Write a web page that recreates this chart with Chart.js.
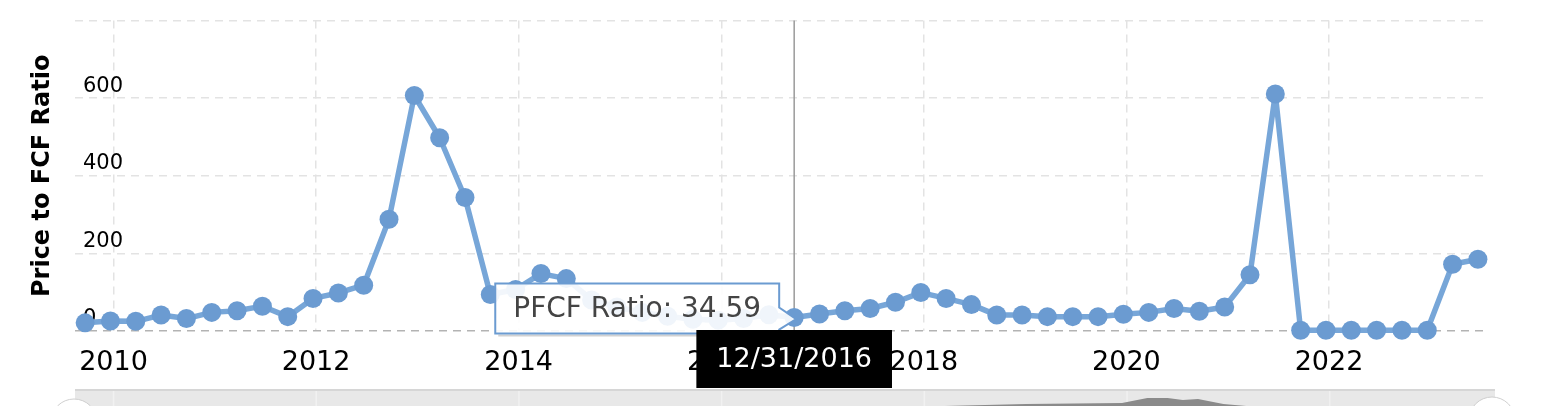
<!DOCTYPE html>
<html>
<head>
<meta charset="utf-8">
<script src="https://cdn.jsdelivr.net/npm/chart.js@4.4.1/dist/chart.umd.min.js"></script>
<style>
    html, body { margin: 0; padding: 0; background: #fff; overflow: hidden; }
    #contenedor { position: relative; width: 1550px; height: 406px; overflow: hidden; }
    #grafico { position: absolute; left: 0; top: 0; }
    #navegador { position: absolute; left: 0; top: 389px; }
</style>
</head>
<body>
<div id="contenedor">
    <canvas id="grafico" width="1550" height="389"></canvas>
    <canvas id="navegador" width="1550" height="60"></canvas>
</div>
<script>
const fechas = [
    "12/31/2009",
    "3/31/2010", "6/30/2010", "9/30/2010", "12/31/2010",
    "3/31/2011", "6/30/2011", "9/30/2011", "12/31/2011",
    "3/31/2012", "6/30/2012", "9/30/2012", "12/31/2012",
    "3/31/2013", "6/30/2013", "9/30/2013", "12/31/2013",
    "3/31/2014", "6/30/2014", "9/30/2014", "12/31/2014",
    "3/31/2015", "6/30/2015", "9/30/2015", "12/31/2015",
    "3/31/2016", "6/30/2016", "9/30/2016", "12/31/2016",
    "3/31/2017", "6/30/2017", "9/30/2017", "12/31/2017",
    "3/31/2018", "6/30/2018", "9/30/2018", "12/31/2018",
    "3/31/2019", "6/30/2019", "9/30/2019", "12/31/2019",
    "3/31/2020", "6/30/2020", "9/30/2020", "12/31/2020",
    "3/31/2021", "6/30/2021", "9/30/2021", "12/31/2021",
    "3/31/2022", "6/30/2022", "9/30/2022", "12/31/2022",
    "3/31/2023", "6/30/2023", "9/30/2023",
];
const pfcf = [
    21,
    26, 25, 41, 32,
    48, 52, 64, 37,
    84, 98, 118, 288,
    607, 498, 344, 94,
    107, 148, 135, 80,
    62, 48, 38, 30,
    28, 32, 42, 34.59,
    44, 52, 58, 74,
    99, 84, 68, 41,
    41, 37, 37, 37,
    43, 48, 58, 51,
    62, 145, 611, 2,
    2, 2, 2, 2,
    2, 172, 185,
];
const anios = [2010, 2012, 2014, 2016, 2018, 2020, 2022];
const ticksY = [0, 200, 400, 600, 800];
const etiquetasY = ["0", "200", "400", "600", ""];

// serie del navegador (solo se ve la parte alta)
const navAnios = [2009.6, 2016.5, 2017.8, 2019.0, 2019.95, 2020.2, 2020.4, 2020.55, 2020.7, 2020.95, 2021.4, 2023.63];
const navValores = [40, 66, 76, 82, 84, 94, 94, 90, 92, 82, 74, 60];

const indiceActivo = 28;
// el grafico original pone el fin de trimestre ~3 meses antes de la linea del anio
const desfase = 0.28;
const fuente = "'DejaVu Sans', Verdana, sans-serif";

function fechaADecimal(f) {
    const [m, d, a] = f.split("/").map(Number);
    return a + m / 12 - desfase;
}

const puntos = fechas.map((f, i) => ({ x: fechaADecimal(f), y: pfcf[i] }));

const pluginCursor = {
    id: "cursor",
    beforeDatasetsDraw(chart) {
        const p = chart.getDatasetMeta(0).data[indiceActivo];
        const { ctx, chartArea } = chart;
        ctx.save();
        ctx.strokeStyle = "#9a9a9a";
        ctx.lineWidth = 1.5;
        ctx.beginPath();
        ctx.moveTo(p.x, chartArea.top);
        ctx.lineTo(p.x, chartArea.bottom);
        ctx.stroke();
        ctx.restore();
    },
    afterDraw(chart) {
        const p = chart.getDatasetMeta(0).data[indiceActivo];
        const ctx = chart.ctx;
        ctx.save();

        // globo del valor
        const texto = "PFCF Ratio: " + pfcf[indiceActivo].toFixed(2);
        ctx.font = "28px " + fuente;
        const ancho = ctx.measureText(texto).width + 36;
        const alto = 50;
        const der = p.x - 15;
        const izq = der - ancho;
        const arriba = p.y - 9 - alto / 2;
        const abajo = arriba + alto;

        // sombra suave abajo y a la derecha
        ctx.strokeStyle = "rgba(0,0,0,0.18)";
        ctx.lineWidth = 2;
        ctx.beginPath();
        ctx.moveTo(izq + 3, abajo + 2);
        ctx.lineTo(der + 2, abajo + 2);
        ctx.lineTo(der + 2, p.y + 13);
        ctx.stroke();

        ctx.beginPath();
        ctx.moveTo(izq, arriba);
        ctx.lineTo(der, arriba);
        ctx.lineTo(der, p.y - 10);
        ctx.lineTo(p.x + 2, p.y + 1.5);
        ctx.lineTo(der, p.y + 12);
        ctx.lineTo(der, abajo);
        ctx.lineTo(izq, abajo);
        ctx.closePath();
        ctx.fillStyle = "rgba(255,255,255,0.9)";
        ctx.fill();
        ctx.strokeStyle = "#6b9bd1";
        ctx.lineWidth = 2;
        ctx.stroke();
        ctx.fillStyle = "#444";
        ctx.textAlign = "left";
        ctx.textBaseline = "middle";
        ctx.fillText(texto, izq + 18, arriba + alto / 2 + 1);

        // etiqueta de fecha
        const fecha = fechas[indiceActivo];
        ctx.font = "27px " + fuente;
        const anchoF = ctx.measureText(fecha).width + 40;
        ctx.fillStyle = "#000";
        ctx.fillRect(p.x - anchoF / 2, 330, anchoF, 58);
        ctx.fillStyle = "#fff";
        ctx.textAlign = "center";
        ctx.fillText(fecha, p.x, 360);
        ctx.restore();
    },
};

new Chart(document.getElementById("grafico").getContext("2d"), {
    type: "line",
    data: {
        datasets: [
            {
                label: "PFCF Ratio",
                data: puntos,
                borderColor: "#77a6d8",
                borderWidth: 5.5,
                borderJoinStyle: "round",
                pointBackgroundColor: "#6b9bd1",
                pointBorderWidth: 0,
                pointRadius: 9.5,
                tension: 0,
                clip: false,
            },
        ],
    },
    options: {
        responsive: false,
        animation: false,
        events: [],
        layout: { padding: { top: 18, right: 65, left: 0, bottom: 0 } },
        plugins: { legend: { display: false }, tooltip: { enabled: false } },
        scales: {
            x: {
                type: "linear",
                min: 2009.62,
                max: 2023.54,
                afterBuildTicks: (s) => { s.ticks = anios.map((v) => ({ value: v })); },
                afterFit: (s) => { s.height = 58; },
                ticks: {
                    callback: (v) => String(v),
                    font: { family: fuente, size: 27 },
                    color: "#000",
                    padding: 16,
                    maxRotation: 0,
                },
                grid: { color: "#e3e3e3", lineWidth: 1.5, drawTicks: false },
                border: { display: false, dash: [8, 6] },
            },
            y: {
                min: 0,
                max: 800,
                afterBuildTicks: (s) => { s.ticks = ticksY.map((v) => ({ value: v })); },
                afterFit: (s) => { s.width = 75; },
                ticks: {
                    mirror: true,
                    padding: 8,
                    labelOffset: -12,
                    callback: (v, i) => etiquetasY[i],
                    font: { family: fuente, size: 21 },
                    color: "#000",
                },
                grid: {
                    color: (c) => (c.tick && c.tick.value === 0 ? "#b3b3b3" : "#e3e3e3"),
                    lineWidth: 1.5,
                    drawTicks: false,
                },
                border: { display: false, dash: [8, 6] },
                title: {
                    display: true,
                    text: "Price to FCF Ratio",
                    font: { family: fuente, size: 24, weight: "bold" },
                    color: "#000",
                    padding: { top: 28, bottom: 0 },
                },
            },
        },
    },
    plugins: [pluginCursor],
});

// navegador inferior
const pluginFranja = {
    id: "franja",
    beforeDraw(chart) {
        const { ctx, chartArea } = chart;
        ctx.save();
        ctx.fillStyle = "#e8e8e8";
        ctx.fillRect(chartArea.left, 0, chartArea.right - chartArea.left, chart.height);
        ctx.fillStyle = "#d6d6d6";
        ctx.fillRect(chartArea.left, 0, chartArea.right - chartArea.left, 2);
        ctx.strokeStyle = "#f1f1f1";
        ctx.lineWidth = 1.5;
        anios.forEach((a) => {
            const x = chart.scales.x.getPixelForValue(a);
            ctx.beginPath();
            ctx.moveTo(x, 2);
            ctx.lineTo(x, chart.height);
            ctx.stroke();
        });
        ctx.restore();
    },
    afterDraw(chart) {
        const ctx = chart.ctx;
        ctx.save();
        ctx.fillStyle = "#fff";
        ctx.strokeStyle = "#cfcfcf";
        ctx.lineWidth = 1;
        [[74, 33], [1492, 31]].forEach(([x, y]) => {
            ctx.beginPath();
            ctx.arc(x, y, 23, 0, Math.PI * 2);
            ctx.fill();
            ctx.stroke();
        });
        ctx.restore();
    },
};

new Chart(document.getElementById("navegador").getContext("2d"), {
    type: "line",
    data: {
        datasets: [
            {
                data: navAnios.map((a, i) => ({ x: a, y: navValores[i] })),
                borderWidth: 0,
                pointRadius: 0,
                backgroundColor: "#8a8a8a",
                fill: "start",
                tension: 0,
            },
        ],
    },
    options: {
        responsive: false,
        animation: false,
        events: [],
        layout: { padding: { left: 75, right: 55, top: 6, bottom: 4 } },
        plugins: { legend: { display: false }, tooltip: { enabled: false } },
        scales: {
            x: { type: "linear", min: 2009.62, max: 2023.63, display: false },
            y: { min: 0, max: 100, display: false },
        },
    },
    plugins: [pluginFranja],
});
</script>
</body>
</html>
